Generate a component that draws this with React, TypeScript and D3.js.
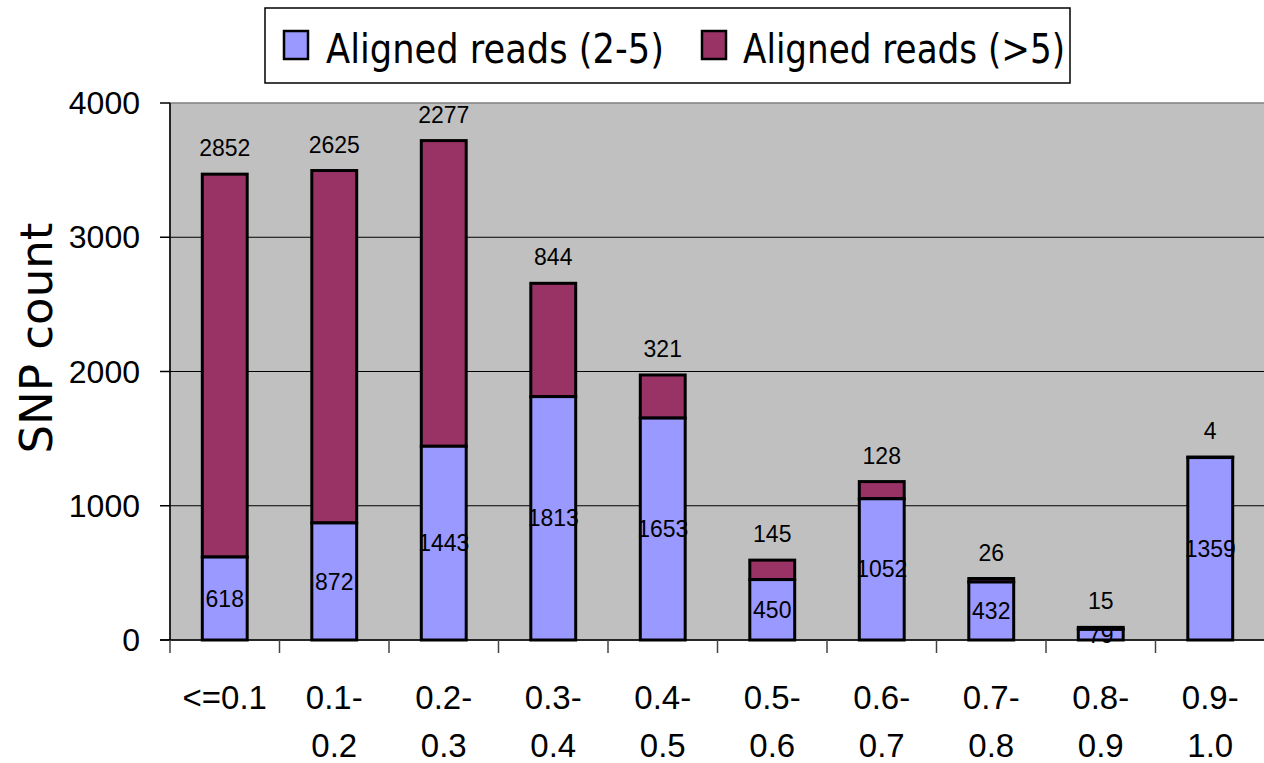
import React from 'react';
import * as d3 from 'd3';

const categories = ['<=0.1', '0.1-|0.2', '0.2-|0.3', '0.3-|0.4', '0.4-|0.5', '0.5-|0.6', '0.6-|0.7', '0.7-|0.8', '0.8-|0.9', '0.9-|1.0'];
const reads2to5 = [618, 872, 1443, 1813, 1653, 450, 1052, 432, 79, 1359];
const readsOver5 = [2852, 2625, 2277, 844, 321, 145, 128, 26, 15, 4];
const yTicks = [0, 1000, 2000, 3000, 4000];
const seriesNames = ['Aligned reads (2-5)', 'Aligned reads (>5)'];

const W = 1264;
const H = 763;
const plot = { left: 170, right: 1265, top: 103, bottom: 640 };

const BLUE = '#9999ff';
const MAROON = '#993366';
const ARIAL = '"Liberation Sans", Arial, sans-serif';
const COMIC = '"Comic Sans MS", "DejaVu Sans", sans-serif';

export default function App() {
  const x = d3.scaleBand<number>()
    .domain(d3.range(categories.length))
    .range([plot.left, plot.right])
    .paddingInner(0.59)
    .paddingOuter(0.295);

  const y = d3.scaleLinear().domain([0, 4000]).range([plot.bottom, plot.top]);

  const step = x.step();
  const boundaries = d3.range(categories.length + 1).map(i => plot.left + i * step);

  return (
    <svg width={W} height={H} style={{ position: 'absolute', left: 0, top: 0, background: '#fff' }}>
      {/* plot area */}
      <rect x={plot.left} y={plot.top} width={plot.right - plot.left} height={plot.bottom - plot.top}
        fill="#c0c0c0" stroke="#808080" strokeWidth={1.5} />

      {/* gridlines */}
      {yTicks.filter(t => t > 0 && t < 4000).map(t => (
        <line key={t} x1={plot.left} x2={plot.right} y1={y(t)} y2={y(t)} stroke="#000" strokeWidth={1} />
      ))}

      {/* y axis */}
      <line x1={plot.left} x2={plot.left} y1={plot.top} y2={plot.bottom} stroke="#000" strokeWidth={1.5} />
      {yTicks.map(t => (
        <g key={t}>
          <line x1={plot.left - 10} x2={plot.left} y1={y(t)} y2={y(t)} stroke="#000" strokeWidth={1.5} />
          <text x={140} y={y(t)} dy="0.35em" textAnchor="end" fontFamily={ARIAL} fontSize={32}>{t}</text>
        </g>
      ))}
      <text transform={`translate(52, 338) rotate(-90)`} textAnchor="middle" fontFamily={COMIC} fontSize={44}
        textLength={231} lengthAdjust="spacingAndGlyphs">SNP count</text>

      {/* bars */}
      {categories.map((c, i) => {
        const bx = x(i)!;
        const bw = x.bandwidth();
        const lo = reads2to5[i];
        const hi = readsOver5[i];
        const total = lo + hi;
        return (
          <g key={c}>
            <rect x={bx} y={y(total)} width={bw} height={y(lo) - y(total)} fill={MAROON} stroke="#000" strokeWidth={3} />
            <rect x={bx} y={y(lo)} width={bw} height={y(0) - y(lo)} fill={BLUE} stroke="#000" strokeWidth={3} />
            <text x={bx + bw / 2} y={(y(lo) + y(0)) / 2} dy="0.35em" textAnchor="middle" fontFamily={ARIAL} fontSize={23}>{lo}</text>
            <text x={bx + bw / 2} y={y(total) - 18} textAnchor="middle" fontFamily={ARIAL} fontSize={23}>{hi}</text>
          </g>
        );
      })}

      {/* x axis */}
      <line x1={plot.left - 10} x2={plot.right} y1={plot.bottom} y2={plot.bottom} stroke="#000" strokeWidth={1.5} />
      {boundaries.map((b, i) => (
        <line key={i} x1={b} x2={b} y1={plot.bottom} y2={plot.bottom + 13} stroke="#444" strokeWidth={1.5} />
      ))}
      {categories.map((c, i) => {
        const cx = x(i)! + x.bandwidth() / 2;
        const lines = c.split('|');
        return (
          <text key={c} textAnchor="middle" fontFamily={ARIAL} fontSize={33}>
            {lines.map((l, j) => (
              <tspan key={j} x={cx} y={709 + j * 48}>{l}</tspan>
            ))}
          </text>
        );
      })}

      {/* legend */}
      <rect x={265} y={8} width={805} height={75} fill="#fff" stroke="#000" strokeWidth={1.5} />
      <rect x={284} y={31} width={24} height={28} fill={BLUE} stroke="#000" strokeWidth={2.5} />
      <text x={326} y={63} fontFamily={COMIC} fontSize={40} textLength={338} lengthAdjust="spacingAndGlyphs">{seriesNames[0]}</text>
      <rect x={702} y={31} width={24} height={28} fill={MAROON} stroke="#000" strokeWidth={2.5} />
      <text x={743} y={63} fontFamily={COMIC} fontSize={40} textLength={322} lengthAdjust="spacingAndGlyphs">{seriesNames[1]}</text>
    </svg>
  );
}
